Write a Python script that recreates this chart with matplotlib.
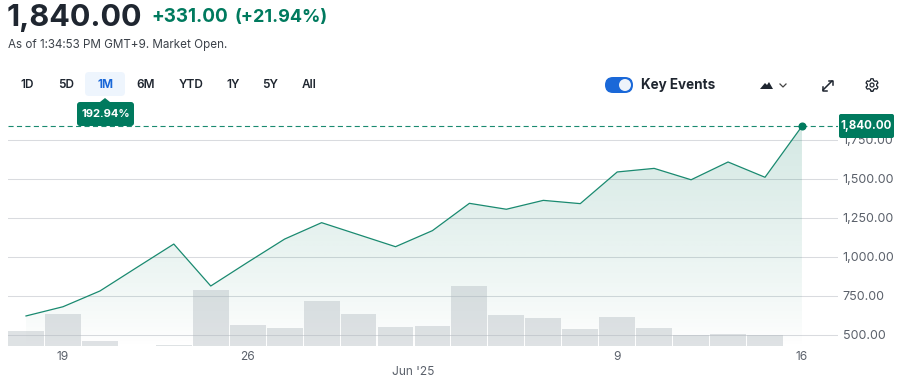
import numpy as np
import matplotlib
matplotlib.use("Agg")
import matplotlib.pyplot as plt
from matplotlib.patches import FancyBboxPatch, Polygon, Circle

plt.rcParams['font.family'] = ['Inter', 'DejaVu Sans']

# price per trading day, 16 May - 16 Jun
price = [624, 683, 784, 935, 1085, 816, 968, 1117, 1222, 1145, 1068, 1171, 1346, 1308,
         1365, 1344, 1547, 1570, 1497, 1611, 1513, 1840]
# volume in pixels-ish units, last day has no bar yet
volume = [15.5, 32, 5, 0, 1, 56, 21, 18, 45, 32, 19, 20, 60, 31, 28, 17, 29, 18, 11, 12, 11]
ytick_vals = [500, 750, 1000, 1250, 1500, 1750]
ytick_labels = ['500.00', '750.00', '1,000.00', '1,250.00', '1,500.00', '1,750.00']
xtick_pos = [1, 6, 16, 21]
xtick_labels = ['19', '26', '9', '16']
ranges = ['1D', '5D', '1M', '6M', 'YTD', '1Y', '5Y', 'All']
range_x = [27, 66, 105, 146, 191, 233, 270, 309]

W, H = 909, 387
GREEN = '#007a5e'
INK = '#1f2630'
GREY = '#5b616b'

fig = plt.figure(figsize=(W / 100, H / 100), dpi=100)

# overlay in pixel coords for the page furniture
bg = fig.add_axes([0, 0, 1, 1])
bg.set_xlim(0, W)
bg.set_ylim(H, 0)
bg.axis('off')

# main chart axes, x = index of trading day
px_day = 36.95
x0 = 26
left, right = 8, 838
top, bottom = 100, 346
ax = fig.add_axes([left / W, 1 - bottom / H, (right - left) / W, (bottom - top) / H])
ax.patch.set_alpha(0)
xlim = ((left - x0) / px_day, (right - x0) / px_day)
# 39 px per 250
v_bottom = 500 - (bottom - 335.3) * 250 / 39
v_top = 500 + (335.3 - top) * 250 / 39
for s in ax.spines.values():
    s.set_visible(False)

days = np.arange(len(price))
ax.set_yticks(ytick_vals)
ax.set_yticklabels([])
ax.set_xticks(xtick_pos)
ax.set_xticklabels([])
ax.tick_params(length=0)
ax.grid(axis='y', color='#d9dbdf', lw=0.75)
ax.grid(axis='x', visible=False)
ax.set_axisbelow(True)

# gradient under the line
grad = np.zeros((256, 2, 4))
grad[..., :3] = matplotlib.colors.to_rgb(GREEN)
grad[..., 3] = (0.17 * np.linspace(1, 0, 256) ** 0.8)[:, None]
im = ax.imshow(grad, extent=[days[0], days[-1], v_bottom, max(price)], aspect='auto', zorder=1.5)
poly = Polygon(list(zip(days, price)) + [(days[-1], v_bottom), (days[0], v_bottom)],
               closed=True, transform=ax.transData, fc='none', ec='none')
ax.add_patch(poly)
im.set_clip_path(poly)
ax.set_xlim(xlim)
ax.set_ylim(v_bottom, v_top)

# volume on its own scale
axv = ax.twinx()
axv.set_ylim(0, bottom - top)
axv.axis('off')
axv.bar(days[:len(volume)], volume, width=0.97, color='#aeb7bd', alpha=0.4, lw=0, zorder=2)

ax.plot(days, price, color='#1a8a70', lw=0.9, zorder=3)
ax.set_zorder(1)
axv.set_zorder(2)
axv.plot(days[-1], (price[-1] - v_bottom) / (v_top - v_bottom) * (bottom - top), 'o', ms=4.8, color=GREEN, zorder=5)
ax.axhline(price[-1], color='#1a8a70', lw=0.8, ls=(0, (4.6, 3)), zorder=4)

for v, lab in zip(ytick_vals, ytick_labels):
    ax.annotate(lab, (1, v), xycoords=('axes fraction', 'data'), xytext=(3.4, -0.4),
                textcoords='offset points', va='center', ha='left', fontsize=9, color=GREY)
for d, lab in zip(xtick_pos, xtick_labels):
    bg.text(x0 + d * px_day, 357, lab, ha='center', va='center', fontsize=8.6, color=GREY)
bg.text(413, 372, "Jun '25", ha='center', va='center', fontsize=8.6, color=GREY)

# header
bg.text(7, 18, '1,840.00', fontsize=22, fontweight='bold', color=INK, va='center')
bg.text(151, 17, '+331.00', fontsize=13.6, fontweight='bold', color=GREEN, va='center')
bg.text(234, 17, '(+21.94%)', fontsize=13, fontweight='bold', color=GREEN, va='center')
bg.text(8, 45, 'As of 1:34:53 PM GMT+9. Market Open.', fontsize=8.4, color='#3c424a', va='center')

# range buttons
bg.add_patch(FancyBboxPatch((85, 72), 40, 24, boxstyle='round,pad=0,rounding_size=4', fc='#eef5fd', ec='none'))
for x, lab in zip(range_x, ranges):
    bg.text(x, 85, lab, ha='center', va='center', fontsize=8.5, fontweight='bold' if lab == '1M' else 'semibold',
            color='#1a68d8' if lab == '1M' else INK)

# return tag
bg.add_patch(FancyBboxPatch((77, 102), 57, 24, boxstyle='round,pad=0,rounding_size=3', fc=GREEN, ec='none', zorder=6))
bg.add_patch(Polygon([(100, 102), (105, 98), (110, 102)], fc=GREEN, ec='none', zorder=6))
bg.text(105.5, 114, '192.94%', ha='center', va='center', fontsize=8, fontweight='bold', color='white', zorder=7)

# last price tag
tag = fig.add_axes([0, 0, 1, 1])
tag.set_xlim(0, W)
tag.set_ylim(H, 0)
tag.axis('off')
tag.set_zorder(5)
tag.add_patch(FancyBboxPatch((839, 114), 55, 24, boxstyle='round,pad=0,rounding_size=2', fc=GREEN, ec='none'))
tag.text(866.5, 125.5, '1,840.00', ha='center', va='center', fontsize=8.3, fontweight='bold', color='white')

# key events toggle
tag.add_patch(FancyBboxPatch((605, 77), 28, 16, boxstyle='round,pad=0,rounding_size=8', fc='#1a68d8', ec='none'))
tag.add_patch(Circle((625, 85), 6, fc='#eef3fa', ec='none'))
tag.text(641, 85.5, 'Key Events', fontsize=9.7, fontweight='bold', color=INK, va='center')

# chart type icon, chevron
tag.add_patch(Polygon([(760, 89), (765, 83), (767, 85), (769, 82), (773, 89)], fc=INK, ec='none'))
tag.plot([780, 783, 786], [84, 87, 84], color='#444', lw=0.9)
# expand arrow
tag.plot([823, 832], [90, 81], color=INK, lw=1.1)
tag.plot([828.5, 832.5, 832.5], [80.5, 80.5, 84.5], color=INK, lw=1.1)
tag.plot([822.5, 822.5, 826.5], [86.5, 90.5, 90.5], color=INK, lw=1.1)
# settings gear
ang = np.linspace(0, 2 * np.pi, 145)
rad = 5.5 + 0.8 * np.clip(3 * np.cos(6 * ang), -1, 1)
tag.plot(872 + rad * np.sin(ang), 85 + rad * np.cos(ang), color=INK, lw=0.9)
tag.add_patch(Circle((872, 85), 2, fc='none', ec=INK, lw=0.9))

fig.savefig('out.png', dpi=100)
